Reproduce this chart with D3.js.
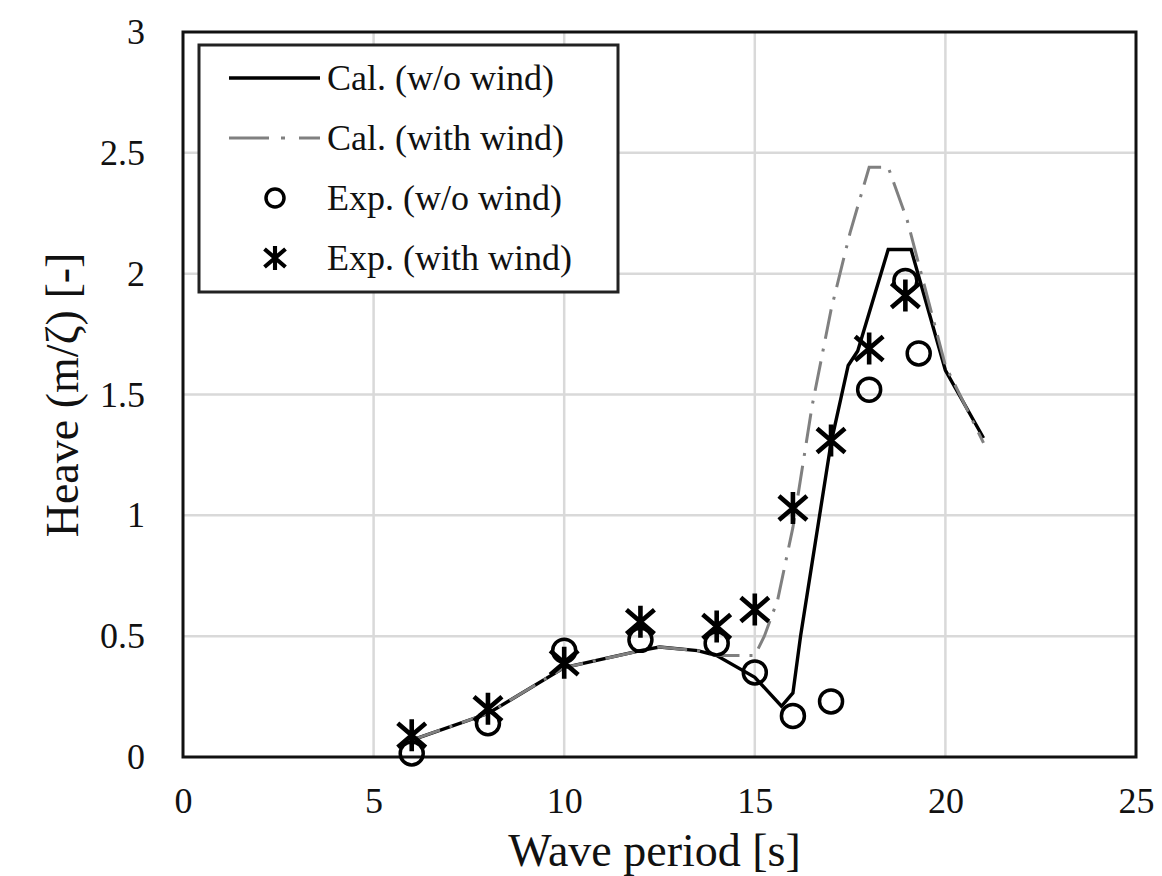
<!DOCTYPE html>
<html>
<head>
<meta charset="utf-8">
<script src="https://cdn.jsdelivr.net/npm/d3@7"></script>
<style>
  body { margin: 0; background: #fff; }
  svg { display: block; font-family: "Liberation Serif", "DejaVu Serif", serif; }
</style>
</head>
<body>
<svg id="chart" width="1162" height="876"></svg>
<script>
// values
var calNoWindX = [6, 8, 10, 12, 12.5, 13.5, 14, 15, 15.7, 16, 16.2, 17, 17.45, 17.7, 18.5, 19.1, 20, 21];
var calNoWindY = [0.07, 0.18, 0.37, 0.44, 0.455, 0.44, 0.42, 0.33, 0.21, 0.265, 0.5, 1.3, 1.62, 1.68, 2.1, 2.1, 1.6, 1.32];

var calWindX = [6, 8, 10, 12, 12.5, 13.5, 14, 15, 15.25, 15.6, 16, 16.5, 17, 17.5, 18, 18.5, 19, 20, 21];
var calWindY = [0.07, 0.18, 0.37, 0.44, 0.455, 0.44, 0.42, 0.42, 0.5, 0.65, 0.95, 1.45, 1.85, 2.17, 2.44, 2.44, 2.22, 1.62, 1.3];

var expNoWindX = [6, 8, 10, 12, 14, 15, 16, 17, 18, 18.95, 19.3];
var expNoWindY = [0.015, 0.14, 0.44, 0.485, 0.47, 0.35, 0.17, 0.23, 1.52, 1.97, 1.67];

var expWindX = [6, 8, 10, 12, 14, 15, 16, 17, 18, 18.95];
var expWindY = [0.09, 0.2, 0.39, 0.56, 0.54, 0.61, 1.03, 1.31, 1.69, 1.91];

var xTicks = [0, 5, 10, 15, 20, 25];
var yTicks = [0, 0.5, 1, 1.5, 2, 2.5, 3];

var legendLabels = ["Cal. (w/o wind)", "Cal. (with wind)", "Exp. (w/o wind)", "Exp. (with wind)"];

function drawChart() {
  var svg = d3.select("#chart");
  var mLeft = 183, mRight = 1136, mTop = 32, mBottom = 757;

  var x = d3.scaleLinear().domain([0, 25]).range([mLeft, mRight]);
  var y = d3.scaleLinear().domain([0, 3]).range([mBottom, mTop]);

  // gridlines
  svg.append("g").selectAll("line")
    .data(xTicks.slice(1, -1))
    .enter().append("line")
      .attr("x1", d => x(d)).attr("x2", d => x(d))
      .attr("y1", mTop).attr("y2", mBottom)
      .attr("stroke", "#d9d9d9").attr("stroke-width", 2.5);
  svg.append("g").selectAll("line")
    .data(yTicks.slice(1, -1))
    .enter().append("line")
      .attr("x1", mLeft).attr("x2", mRight)
      .attr("y1", d => y(d)).attr("y2", d => y(d))
      .attr("stroke", "#d9d9d9").attr("stroke-width", 2.5);

  // plot frame
  svg.append("rect")
    .attr("x", mLeft).attr("y", mTop)
    .attr("width", mRight - mLeft).attr("height", mBottom - mTop)
    .attr("fill", "none").attr("stroke", "#111").attr("stroke-width", 3);

  // tick labels via axes
  var xAxis = svg.append("g")
    .attr("transform", "translate(0," + mBottom + ")")
    .call(d3.axisBottom(x).tickValues(xTicks).tickSize(0).tickPadding(30));
  var yAxis = svg.append("g")
    .attr("transform", "translate(" + mLeft + ",0)")
    .call(d3.axisLeft(y).tickValues(yTicks).tickFormat(d3.format("")).tickSize(0).tickPadding(38));
  [xAxis, yAxis].forEach(function(a) {
    a.select(".domain").remove();
    a.selectAll("text")
      .style("font-family", "Liberation Serif, serif")
      .style("font-size", "36px")
      .attr("fill", "#111");
  });

  // axis titles
  svg.append("text")
    .attr("x", (mLeft + mRight) / 2 - 5).attr("y", 866)
    .attr("text-anchor", "middle")
    .style("font-size", "46px").attr("fill", "#111")
    .text("Wave period [s]");
  svg.append("text")
    .attr("transform", "translate(78,395) rotate(-90)")
    .attr("text-anchor", "middle")
    .style("font-size", "46px").attr("fill", "#111")
    .text("Heave (m/ζ) [-]");

  // lines
  var line = d3.line().x(d => x(d[0])).y(d => y(d[1]));
  svg.append("path")
    .datum(d3.zip(calNoWindX, calNoWindY))
    .attr("d", line)
    .attr("fill", "none").attr("stroke", "#000").attr("stroke-width", 3.4);
  svg.append("path")
    .datum(d3.zip(calWindX, calWindY))
    .attr("d", line)
    .attr("fill", "none").attr("stroke", "#808080").attr("stroke-width", 3)
    .attr("stroke-dasharray", "30,10,3,10");

  // markers
  var starPath = "M0,-16V16M-14,-12L14,12M-14,12L14,-12";
  svg.append("g").selectAll("circle")
    .data(d3.zip(expNoWindX, expNoWindY))
    .enter().append("circle")
      .attr("cx", d => x(d[0])).attr("cy", d => y(d[1]))
      .attr("r", 11.5)
      .attr("fill", "none").attr("stroke", "#000").attr("stroke-width", 3.5);
  svg.append("g").selectAll("path")
    .data(d3.zip(expWindX, expWindY))
    .enter().append("path")
      .attr("transform", d => "translate(" + x(d[0]) + "," + y(d[1]) + ")")
      .attr("d", starPath)
      .attr("fill", "none").attr("stroke", "#000").attr("stroke-width", 4.6);

  // legend
  var lg = svg.append("g");
  lg.append("rect")
    .attr("x", 199).attr("y", 45).attr("width", 419).attr("height", 247)
    .attr("fill", "#fff").attr("stroke", "#222").attr("stroke-width", 3);
  var rowY = d3.scalePoint().domain(legendLabels).range([78, 258]);
  lg.append("line")
    .attr("x1", 229).attr("x2", 320)
    .attr("y1", rowY(legendLabels[0])).attr("y2", rowY(legendLabels[0]))
    .attr("stroke", "#000").attr("stroke-width", 3.4);
  lg.append("line")
    .attr("x1", 229).attr("x2", 320)
    .attr("y1", rowY(legendLabels[1])).attr("y2", rowY(legendLabels[1]))
    .attr("stroke", "#808080").attr("stroke-width", 3)
    .attr("stroke-dasharray", "40,12,4,14");
  lg.append("circle")
    .attr("cx", 275).attr("cy", rowY(legendLabels[2]))
    .attr("r", 9).attr("fill", "none").attr("stroke", "#000").attr("stroke-width", 3.5);
  lg.append("path")
    .attr("transform", "translate(275," + rowY(legendLabels[3]) + ") scale(0.75)")
    .attr("d", starPath)
    .attr("fill", "none").attr("stroke", "#000").attr("stroke-width", 5.5);
  lg.selectAll("text")
    .data(legendLabels)
    .enter().append("text")
      .attr("x", 327).attr("y", d => rowY(d))
      .attr("dy", "0.33em")
      .style("font-size", "36px").attr("fill", "#111")
      .text(d => d);
}

drawChart();
</script>
</body>
</html>
